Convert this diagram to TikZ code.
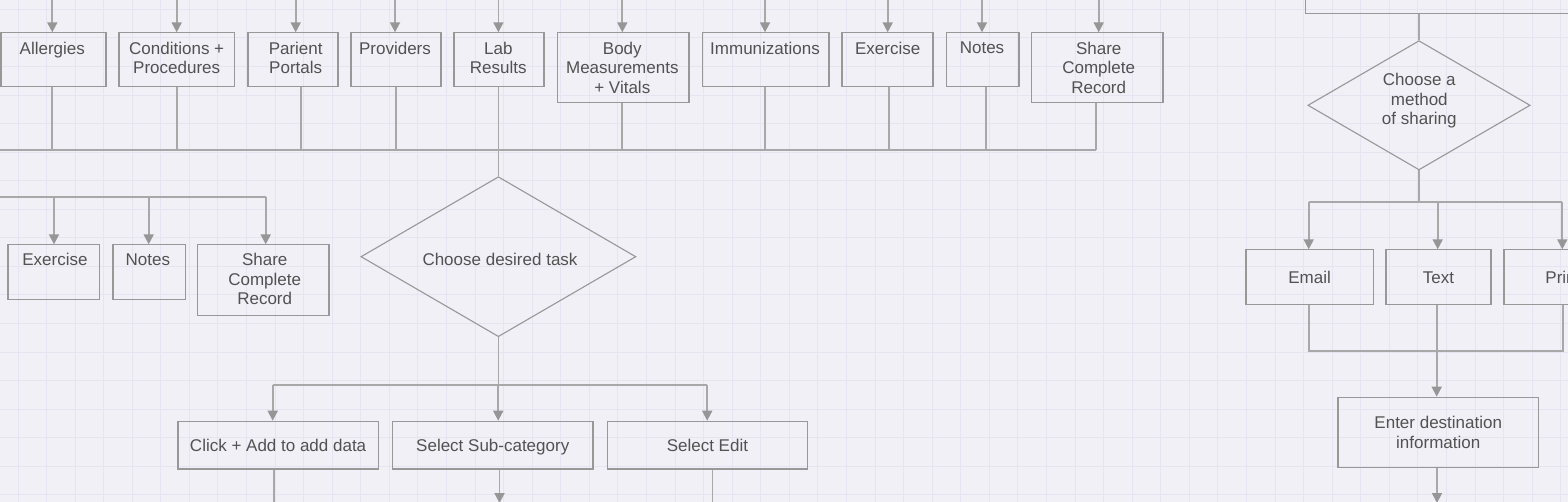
\documentclass[tikz,border=0pt]{standalone}
\usepackage{fontspec}
\setmainfont{Liberation Sans}
\usetikzlibrary{arrows.meta,shapes.geometric}
\definecolor{bg}{RGB}{240,240,246}
\definecolor{gridc}{RGB}{229,229,242}
\definecolor{linec}{RGB}{168,168,168}
\definecolor{arrc}{RGB}{150,150,150}
\definecolor{boxc}{RGB}{152,152,152}
\definecolor{txtc}{RGB}{82,82,82}
\tikzset{
  txt/.style={text=txtc, font=\fontsize{17pt}{19.5pt}\selectfont, align=center, inner sep=0pt},
  box/.style={draw=boxc, line width=1.2pt, inner sep=0pt, rectangle, txt},
  oneline/.style={text height=12.4pt, text depth=0pt},
  decision/.style={diamond, draw=boxc, line width=1.1pt, inner sep=0pt, shape aspect=1.72},
  conn/.style={draw=linec, line width=1.8pt},
  arr/.style={conn, -{Triangle[length=10pt,width=10pt,color=arrc]}},
  gridline/.style={draw=gridc, line width=1pt}
}
\begin{document}
\begin{tikzpicture}[x=1pt,y=-1pt]
\fill[bg] (0,0) rectangle (1568,502);
\useasboundingbox (0,0) rectangle (1568,502);
\begin{scope}
\clip (0,0) rectangle (1568,502);
% grid
\foreach \i in {0,...,54} \draw[gridline] ({18+28.57*\i},0) -- ++(0,502);
\foreach \j in {0,...,17} \draw[gridline] (0,{9.3+28.57*\j}) -- ++(1568,0);

% ---------- top row ----------
\coordinate (bus1L) at (-5,150.3);
\coordinate (bus1R) at (1096.3,150.3);
\draw[conn] (bus1L) -- (bus1R);
\foreach \nm/\lx/\bw/\bh/\ax/\ox/\lbl in {
  allergies/0.5/104.8/54/52.3/52.3/{Allergies},
  conditions/118.3/115.7/54/176.7/176.7/{Conditions +\\Procedures},
  portals/247.3/90/54/295.7/301/{Parient\\Portals},
  providers/350.3/90/54/395/395.7/{Providers},
  body/556.7/131.6/70/622.3/622.3/{Body\\Measurements\\+ Vitals},
  immun/701.7/126.6/54/765/765/{Immunizations},
  exercise/841.3/91/54/887.7/889/{Exercise},
  notes/945.7/72.6/54/982/985.7/{Notes},
  share/1030.7/131.6/70/1098.7/1096.3/{Share\\Complete\\Record}}{
  \node[box, minimum width=\bw pt, minimum height=\bh pt, anchor=north west] (\nm) at (\lx,32.3) {};
  \node[txt, anchor=north] (\nm-t) at (\ax,41.5) {\lbl};
  \coordinate (\nm-in) at (\ax,-2);
  \coordinate (\nm-out) at (\ox,0);
  \draw[arr] (\nm-in) -- (\nm-in |- \nm.north);
  \draw[conn] (\nm-out |- \nm.south) -- (\nm-out |- bus1L);
}
% Lab results (feeds the decision)
\node[box, minimum width=90pt, minimum height=54pt, anchor=north west] (lab) at (453.3,32.3) {};
\node[txt, anchor=north] (lab-t) at (498.3,41.5) {Lab\\Results};
\coordinate (lab-in) at (498.4,-2);
\draw[arr] (lab-in) -- (lab-in |- lab.north);

% ---------- decision: choose desired task ----------
\node[decision, minimum width=275pt, minimum height=160pt] (task) at (498.4,256.7) {};
\node[txt] (task-t) at (500,259.8) {Choose desired task};
\draw[conn] (lab.south -| task.north) -- (task.north);

% ---------- middle-left row ----------
\coordinate (bus2L) at (-5,196.7);
\coordinate (bus2R) at (265.7,196.7);
\draw[conn] (bus2L) -- (bus2R);
\foreach \nm/\lx/\bw/\bh/\ax/\tx/\lbl in {
  exercise2/7.3/91.7/54.4/54/55/{Exercise},
  notes2/112.3/72.4/54.4/148.7/147.8/{Notes},
  share2/197/131.3/70.4/265.7/264.7/{Share\\Complete\\Record}}{
  \node[box, minimum width=\bw pt, minimum height=\bh pt, anchor=north west] (\nm) at (\lx,244.3) {};
  \node[txt, anchor=north] (\nm-t) at (\tx,253.2) {\lbl};
  \coordinate (\nm-in) at (\ax,0);
  \draw[arr] (\nm-in |- bus2L) -- (\nm-in |- \nm.north);
}

% ---------- bottom row ----------
\coordinate (bus3) at (0,384.7);
\coordinate (click-in) at (272.7,0);
\coordinate (sub-in) at (498.2,0);
\coordinate (edit-in) at (707.2,0);
\draw[conn] (task.south) -- (task.south |- bus3);
\draw[conn] (click-in |- bus3) -- (edit-in |- bus3);
\node[box, oneline, minimum width=200.4pt, minimum height=47.6pt, anchor=north west] (click) at (177.3,420.7) {Click + Add to add data};
\node[box, oneline, minimum width=200.3pt, minimum height=47.6pt, anchor=north west] (sub) at (392,420.7) {Select Sub-category};
\node[box, oneline, minimum width=200.4pt, minimum height=47.6pt, anchor=north west] (edit) at (606.6,420.7) {Select Edit};
\draw[arr] (click-in |- bus3) -- (click-in |- click.north);
\draw[arr] (sub-in |- bus3) -- (sub-in |- sub.north);
\draw[arr] (edit-in |- bus3) -- (edit-in |- edit.north);
\coordinate (click-out) at (273.6,520);
\coordinate (sub-out) at (499.5,503);
\coordinate (edit-out) at (712.4,520);
\draw[conn] (click.south -| click-out) -- (click-out);
\draw[arr] (sub.south -| sub-out) -- (sub-out);
\draw[conn] (edit.south -| edit-out) -- (edit-out);

% ---------- right side ----------
\node[box, minimum width=320pt, minimum height=40pt, anchor=south west] (sharebox) at (1305,14) {};
\coordinate (sb-out) at (1419,0);
\node[decision, minimum width=222.3pt, minimum height=129.3pt] (method) at (1419,105.3) {};
\node[txt, anchor=north] (method-t) at (1419.3,73) {Choose a\\method\\of sharing};
\draw[conn] (sb-out |- sharebox.south) -- (method.north);

\coordinate (bus4) at (0,201.7);
\coordinate (email-in) at (1308.7,0);
\coordinate (text-in) at (1437.7,0);
\coordinate (print-in) at (1562.3,0);
\draw[conn] (method.south) -- (method.south |- bus4);
\draw[conn] (email-in |- bus4) -- (print-in |- bus4);
\node[box, oneline, minimum width=127.4pt, minimum height=54.4pt, anchor=north west] (email) at (1245.3,249.3) {Email};
\node[box, oneline, minimum width=105pt, minimum height=54.4pt, anchor=north west] (textb) at (1385.3,249.3) {Text};
\node[box, oneline, minimum width=118pt, minimum height=54.4pt, anchor=north west] (print) at (1503.3,249.3) {Print};
\draw[arr] (email-in |- bus4) -- (email-in |- email.north);
\draw[arr] (text-in |- bus4) -- (text-in |- textb.north);
\draw[arr] (print-in |- bus4) -- (print-in |- print.north);

\coordinate (bus5) at (0,351.3);
\coordinate (print-out) at (1563.3,0);
\coordinate (text-out) at (1436.7,0);
\draw[conn] (email.south -| email-in) -- (email-in |- bus5) -- (print-out |- bus5) -- (print.south -| print-out);
\node[box, minimum width=200.7pt, minimum height=70pt, anchor=north west] (enter) at (1337.3,396.7) {Enter destination\\information};
\draw[arr] (textb.south -| text-out) -- (text-out |- enter.north);
\coordinate (enter-out) at (1437,503);
\draw[arr] (enter.south -| enter-out) -- (enter-out);
\end{scope}
\end{tikzpicture}
\end{document}
